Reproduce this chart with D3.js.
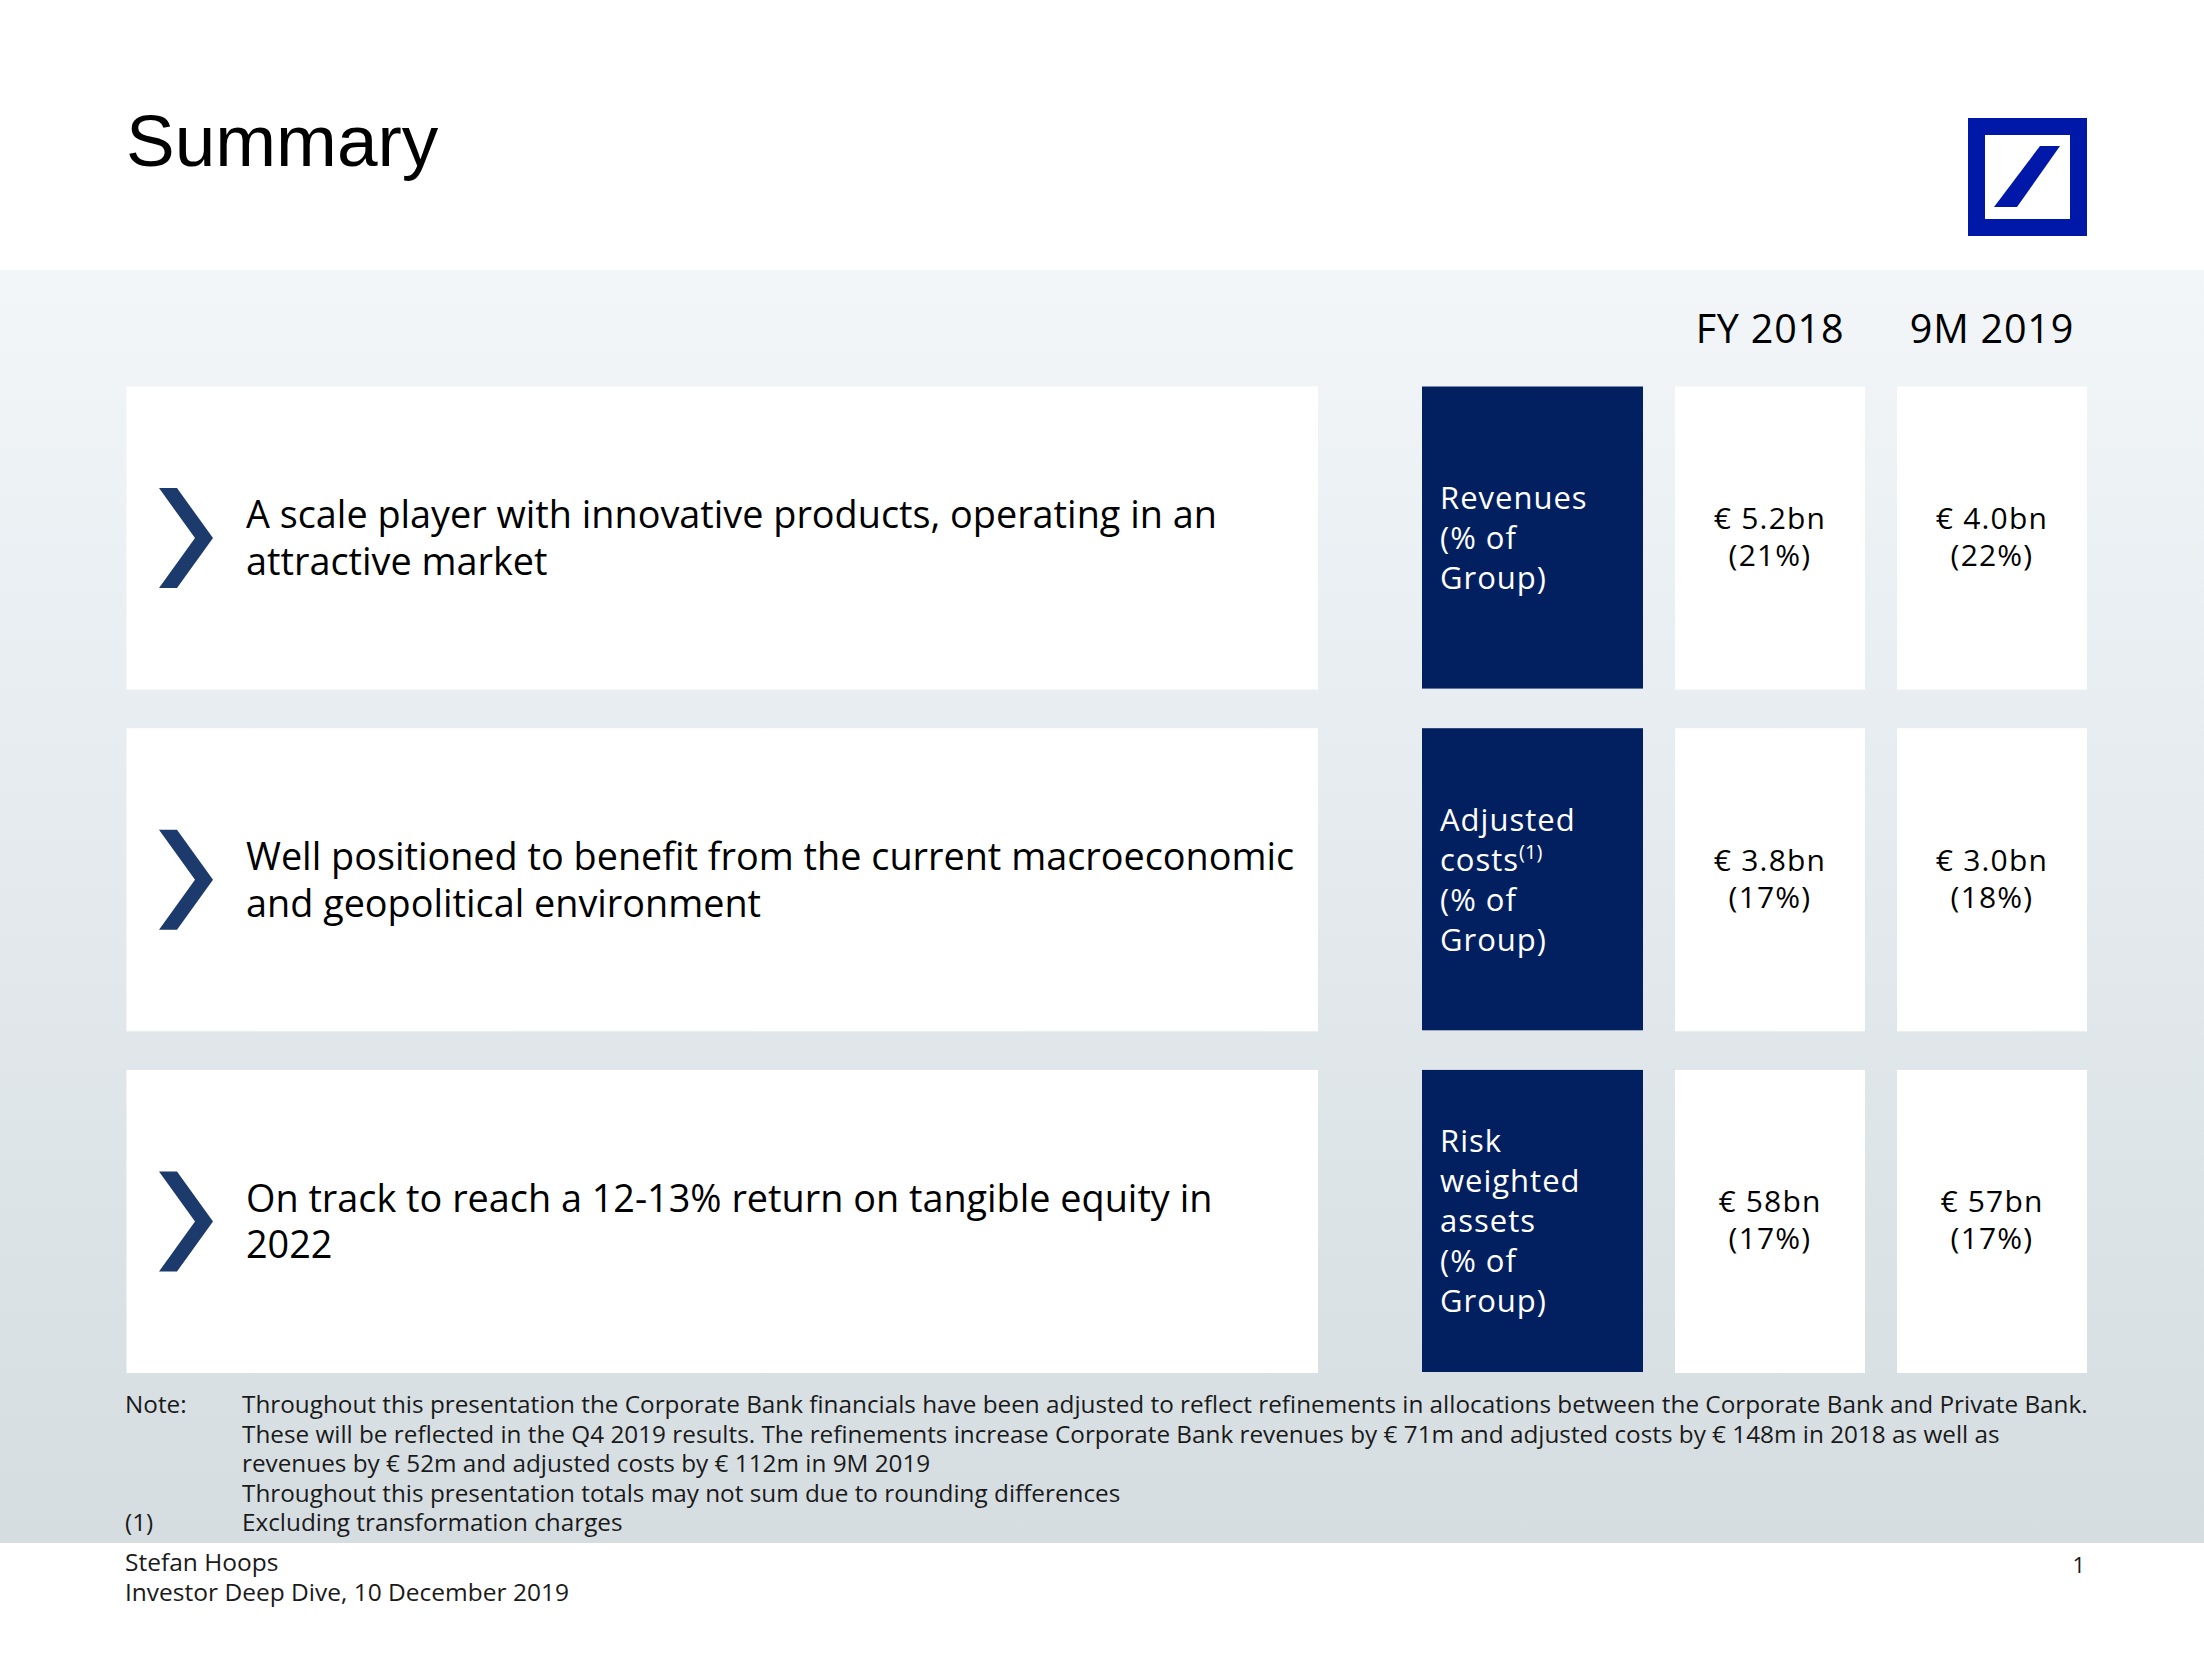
<!DOCTYPE html>
<html>
<head>
<meta charset="utf-8">
<script src="https://cdn.jsdelivr.net/npm/d3@7"></script>
<style>
  html, body { margin: 0; padding: 0; background: #ffffff; }
  svg { display: block; font-family: "Open Sans", "Liberation Sans", Arial, sans-serif; }
</style>
</head>
<body>
<svg id="slide" width="2204" height="1658"></svg>
<script>
// ---------- data ----------
const title = "Summary";
const statements = [
  ["A scale player with innovative products, operating in an", "attractive market"],
  ["Well positioned to benefit from the current macroeconomic", "and geopolitical environment"],
  ["On track to reach a 12-13% return on tangible equity in", "2022"]
];
const metricLabels = [
  ["Revenues", "(% of", "Group)"],
  ["Adjusted", "costs", "(% of", "Group)"],
  ["Risk", "weighted", "assets", "(% of", "Group)"]
];
const metricFootnoteMark = [null, "(1)", null];
const periods = ["FY 2018", "9M 2019"];
const fy2018Values = ["€ 5.2bn", "€ 3.8bn", "€ 58bn"];
const fy2018Shares = ["(21%)", "(17%)", "(17%)"];
const m9_2019Values = ["€ 4.0bn", "€ 3.0bn", "€ 57bn"];
const m9_2019Shares = ["(22%)", "(18%)", "(17%)"];
const noteLabels = ["Note:", "", "", "", "(1)"];
const noteLines = [
  "Throughout this presentation the Corporate Bank financials have been adjusted to reflect refinements in allocations between the Corporate Bank and Private Bank.",
  "These will be reflected in the Q4 2019 results. The refinements increase Corporate Bank revenues by € 71m and adjusted costs by € 148m in 2018 as well as",
  "revenues by € 52m and adjusted costs by € 112m in 9M 2019",
  "Throughout this presentation totals may not sum due to rounding differences",
  "Excluding transformation charges"
];
const footerLines = ["Stefan Hoops", "Investor Deep Dive, 10 December 2019"];
const pageNumber = "1";

// ---------- layout ----------
const svg = d3.select("#slide");
const W = 2204, H = 1658;
const NAVY = "#022060", CHEV = "#1c3a6b", LOGO = "#0018a8";
const NARROW = "'Liberation Sans', Arial, sans-serif";

const defs = svg.append("defs");
const grad = defs.append("linearGradient").attr("id", "band").attr("x1", 0).attr("y1", 0).attr("x2", 0).attr("y2", 1);
grad.append("stop").attr("offset", "0%").attr("stop-color", "#f2f6f9");
grad.append("stop").attr("offset", "50%").attr("stop-color", "#e3e9ed");
grad.append("stop").attr("offset", "100%").attr("stop-color", "#d5dde1");

svg.append("rect").attr("width", W).attr("height", H).attr("fill", "#fff");
svg.append("rect").attr("x", 0).attr("y", 270).attr("width", W).attr("height", 1543 - 270).attr("fill", "url(#band)");

// Title
svg.append("text").attr("x", 126).attr("y", 166).attr("font-size", 73).attr("font-family", NARROW).attr("fill", "#000").text(title);

// Logo
const logo = svg.append("g");
logo.append("rect").attr("x", 1968).attr("y", 118).attr("width", 119).attr("height", 118).attr("fill", LOGO);
logo.append("rect").attr("x", 1985).attr("y", 135).attr("width", 85).attr("height", 84).attr("fill", "#fff");
logo.append("path").attr("d", "M2040,146 L2060,146 L2017,207 L1994,207 Z").attr("fill", LOGO);

// Row / column scales
const rows = d3.scaleBand().domain(d3.range(statements.length)).range([386.5, 1373]).paddingInner(0.113).paddingOuter(0);
const cols = d3.scaleBand().domain(periods).range([1675, 2087]).paddingInner(0.144).paddingOuter(0);

// Period headers
svg.selectAll("text.period").data(periods).join("text")
  .attr("class", "period")
  .attr("x", d => cols(d) + cols.bandwidth() / 2)
  .attr("y", 343)
  .attr("text-anchor", "middle")
  .attr("font-size", 39.5)
  .attr("letter-spacing", 0.8)
  .attr("fill", "#000")
  .text(d => d);

const rowG = svg.selectAll("g.row").data(statements).join("g").attr("class", "row");

rowG.each(function(lines, i) {
  const g = d3.select(this);
  const y0 = rows(i), bh = rows.bandwidth(), cy = y0 + bh / 2;

  // statement box
  g.append("rect").attr("x", 126.5).attr("y", y0).attr("width", 1318 - 126.5).attr("height", bh).attr("fill", "#fff");
  // chevron
  const cx0 = 159, half = 50;
  g.append("path")
    .attr("d", `M${cx0},${cy - half} L${cx0 + 18},${cy - half} L${cx0 + 54},${cy} L${cx0 + 18},${cy + half} L${cx0},${cy + half} L${cx0 + 36},${cy} Z`)
    .attr("fill", CHEV);
  // statement text
  const lh = 46.5;
  const firstBase = cy + 13.5 - (lines.length - 1) * lh / 2;
  g.selectAll("text.stmt").data(lines).join("text")
    .attr("class", "stmt")
    .attr("x", 246)
    .attr("y", (d, k) => firstBase + k * lh)
    .attr("font-size", 37.8)
    .attr("fill", "#000")
    .text(d => d);

  // metric dark box
  g.append("rect").attr("x", 1422).attr("y", y0).attr("width", 221).attr("height", bh - 1).attr("fill", NAVY);
  const mLines = metricLabels[i];
  const mlh = 40;
  const mFirst = cy + 11 - (mLines.length - 1) * mlh / 2;
  mLines.forEach((t, k) => {
    const txt = g.append("text")
      .attr("x", 1440)
      .attr("y", mFirst + k * mlh)
      .attr("font-size", 31)
      .attr("letter-spacing", 1)
      .attr("fill", "#fff")
      .text(t);
    if (t === "costs" && metricFootnoteMark[i]) {
      txt.append("tspan").attr("font-size", 20).attr("letter-spacing", 0).attr("dy", -12).text(metricFootnoteMark[i]);
    }
  });

  // value boxes
  const vals = [[fy2018Values[i], fy2018Shares[i]], [m9_2019Values[i], m9_2019Shares[i]]];
  periods.forEach((p, j) => {
    const x = cols(p);
    g.append("rect").attr("x", x).attr("y", y0).attr("width", cols.bandwidth()).attr("height", bh).attr("fill", "#fff");
    vals[j].forEach((d, k) => {
      g.append("text")
        .attr("x", x + cols.bandwidth() / 2)
        .attr("y", cy - 9 + k * 37)
        .attr("text-anchor", "middle")
        .attr("font-size", 30)
        .attr("letter-spacing", 1.2)
        .attr("fill", "#000")
        .text(d);
    });
  });
});

// Notes
const notes = svg.append("g").attr("font-size", 24.3).attr("fill", "#1a1a1a");
noteLines.forEach((t, k) => {
  const y = 1413 + k * 29.6;
  if (noteLabels[k]) notes.append("text").attr("x", 125).attr("y", y).text(noteLabels[k]);
  notes.append("text").attr("x", 242).attr("y", y).text(t);
});

// Footer
const footer = svg.append("g").attr("font-size", 24.5).attr("fill", "#1a1a1a");
footerLines.forEach((t, k) => {
  footer.append("text").attr("x", 125).attr("y", 1571 + k * 30).text(t);
});
footer.append("text").attr("x", 2085).attr("y", 1573).attr("text-anchor", "end").attr("font-size", 22).text(pageNumber);
</script>
</body>
</html>
